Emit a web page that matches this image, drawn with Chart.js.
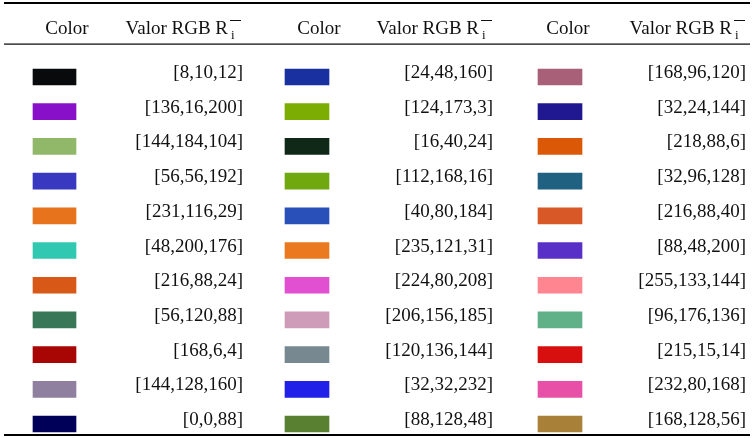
<!DOCTYPE html>
<html>
<head>
<meta charset="utf-8">
<script src="https://cdn.jsdelivr.net/npm/chart.js@4"></script>
<style>
  html, body { margin: 0; padding: 0; background: #fff; }
  canvas { display: block; }
</style>
</head>
<body>
<canvas id="tabla" width="753" height="438"></canvas>
<script>
// valores RGB de cada columna de la tabla
const col1Rgb = [[8,10,12],[136,16,200],[144,184,104],[56,56,192],[231,116,29],[48,200,176],[216,88,24],[56,120,88],[168,6,4],[144,128,160],[0,0,88]];
const col2Rgb = [[24,48,160],[124,173,3],[16,40,24],[112,168,16],[40,80,184],[235,121,31],[224,80,208],[206,156,185],[120,136,144],[32,32,232],[88,128,48]];
const col3Rgb = [[168,96,120],[32,24,144],[218,88,6],[32,96,128],[216,88,40],[88,48,200],[255,133,144],[96,176,136],[215,15,14],[232,80,168],[168,128,56]];
const headerColor = 'Color';
const headerValor = 'Valor RGB R';

const columns = [col1Rgb, col2Rgb, col3Rgb];
// layout (pixeles)
const swatchX = [[33, 76], [285, 329], [538, 582]];
const textRight = [243, 493, 746];
const colorCenter = [67, 319, 568];
const valorRight = [228, 479, 732]; // donde termina la "R"

const FONT = '"Liberation Serif", "DejaVu Serif", serif';

const tablePlugin = {
  id: 'tabla',
  afterDatasetsDraw(chart) {
    const ctx = chart.ctx;
    ctx.save();
    ctx.fillStyle = '#111';
    ctx.font = '19px ' + FONT;
    ctx.textBaseline = 'alphabetic';
    ctx.textAlign = 'right';
    chart.data.datasets.forEach((ds, c) => {
      const meta = chart.getDatasetMeta(c);
      meta.data.forEach((bar, i) => {
        const v = columns[c][i];
        ctx.fillText('[' + v.join(',') + ']', textRight[c], bar.y + 1);
      });
    });

    // cabecera
    for (let c = 0; c < 3; c++) {
      ctx.textAlign = 'center';
      ctx.font = '19px ' + FONT;
      ctx.fillText(headerColor, colorCenter[c], 34);
      ctx.textAlign = 'right';
      ctx.fillText(headerValor, valorRight[c], 34);
      ctx.textAlign = 'left';
      ctx.font = '13px ' + FONT;
      ctx.fillText('i', valorRight[c] + 3, 39);
      ctx.fillRect(valorRight[c] + 2, 20, 11, 1);
    }

    // reglas
    ctx.fillStyle = '#000';
    ctx.fillRect(4, 2, 746, 2);
    ctx.fillRect(4, 43.5, 746, 1.2);
    ctx.fillRect(4, 434, 746, 2);
    ctx.restore();
  }
};

const datasets = columns.map((rgbs, c) => ({
  data: rgbs.map((v, i) => ({ x: swatchX[c], y: i })),
  backgroundColor: rgbs.map(v => `rgb(${v[0]},${v[1]},${v[2]})`),
  borderWidth: 0,
  barThickness: 16,
  grouped: false
}));

new Chart(document.getElementById('tabla'), {
  type: 'bar',
  data: { datasets: datasets },
  options: {
    indexAxis: 'y',
    responsive: false,
    animation: false,
    layout: { padding: 0 },
    scales: {
      x: { type: 'linear', min: 0, max: 753, offset: false, display: false },
      y: { type: 'linear', min: -2.219, max: 10.403, reverse: true, offset: false, display: false }
    },
    plugins: { legend: { display: false }, tooltip: { enabled: false } }
  },
  plugins: [tablePlugin]
});
</script>
</body>
</html>
